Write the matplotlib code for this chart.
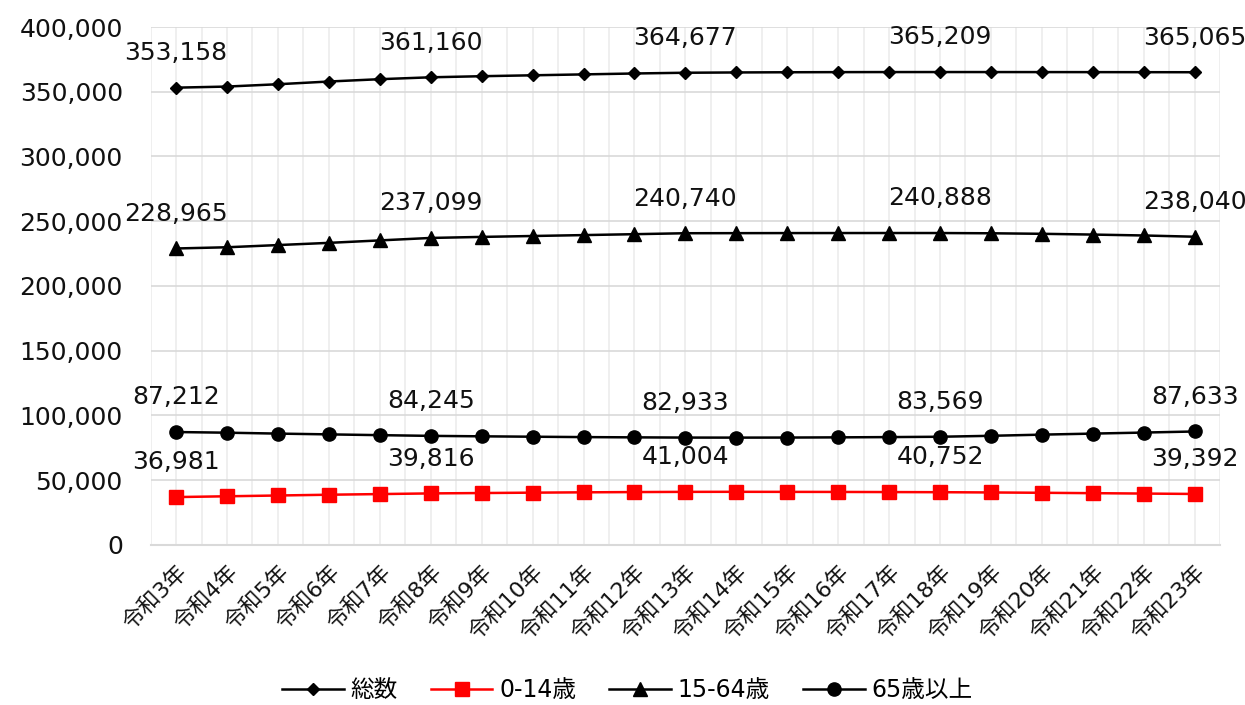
import numpy as np
import matplotlib
matplotlib.use("Agg")
import matplotlib.pyplot as plt

plt.rcParams['font.family'] = ['DejaVu Sans', 'Noto Sans CJK JP']

# data
years = ["令和3年", "令和4年", "令和5年", "令和6年", "令和7年", "令和8年", "令和9年",
         "令和10年", "令和11年", "令和12年", "令和13年", "令和14年", "令和15年",
         "令和16年", "令和17年", "令和18年", "令和19年", "令和20年", "令和21年",
         "令和22年", "令和23年"]

total = [353158, 354000, 355800, 357900, 359700, 361160, 362000, 362700, 363400, 364100,
         364677, 364900, 365050, 365150, 365200, 365209, 365200, 365180, 365150, 365110, 365065]
age_0_14 = [36981, 37600, 38200, 38800, 39300, 39816, 40100, 40400, 40650, 40850,
            41004, 41050, 41000, 40950, 40850, 40752, 40550, 40300, 40000, 39700, 39392]
age_15_64 = [228965, 229900, 231600, 233300, 235200, 237099, 237900, 238600, 239300, 240000,
             240740, 240800, 240850, 240880, 240900, 240888, 240700, 240300, 239700, 239000, 238040]
age_65 = [87212, 86700, 86000, 85400, 84800, 84245, 83900, 83600, 83300, 83100,
          82933, 82900, 82950, 83100, 83300, 83569, 84300, 85200, 86000, 86800, 87633]

label_idx = [0, 5, 10, 15, 20]

fig = plt.figure(figsize=(12.45, 7.05), dpi=100)
ax = fig.add_axes([0.121, 0.227, 0.859, 0.7347])

x = np.arange(len(years))

ax.plot(x, total, color='black', lw=1.8, marker='D', ms=6, label='総数', zorder=3)
ax.plot(x, age_0_14, color='#ff0000', lw=1.8, marker='s', ms=10, label='0-14歳', zorder=3)
ax.plot(x, age_15_64, color='black', lw=1.8, marker='^', ms=10, label='15-64歳', zorder=3)
ax.plot(x, age_65, color='black', lw=1.8, marker='o', ms=9.5, label='65歳以上', zorder=3)

for series in [total, age_0_14, age_15_64, age_65]:
    for i in label_idx:
        ax.annotate(f"{series[i]:,}", (x[i], series[i]), xytext=(0, 25),
                    textcoords='offset points', ha='center', va='center',
                    fontsize=18, color='#111111', zorder=4)

ax.set_xlim(-0.5, 20.5)
ax.set_ylim(0, 400000)
ax.set_yticks(np.arange(0, 400001, 50000))
ax.yaxis.set_major_formatter(matplotlib.ticker.FuncFormatter(lambda v, p: f"{int(v):,}"))
ax.tick_params(axis='y', length=0, pad=20, labelsize=18, labelcolor='#111111')

# grid lines
for v in np.arange(50000, 400001, 50000):
    ax.axhline(v, color='#d9d9d9', lw=1.2, zorder=1)
for xv in np.arange(-0.5, 20.6, 0.5):
    ax.axvline(xv, color='#ececec', lw=1.2, zorder=0.5)

ax.set_xticks(x)
ax.set_xticklabels(years, rotation=45, ha='right', rotation_mode='anchor', fontsize=16)
ax.tick_params(axis='x', length=0, pad=12, labelcolor='#111111')

for s in ['left', 'right', 'top']:
    ax.spines[s].set_visible(False)
ax.spines['bottom'].set_color('#d9d9d9')
ax.spines['bottom'].set_linewidth(1.5)

fig.legend(loc='center', bbox_to_anchor=(0.504, 0.021), ncol=4, frameon=False,
           fontsize=17, handlelength=2.6, columnspacing=1.4, handletextpad=0.3)

fig.savefig('out.png', dpi=100)
